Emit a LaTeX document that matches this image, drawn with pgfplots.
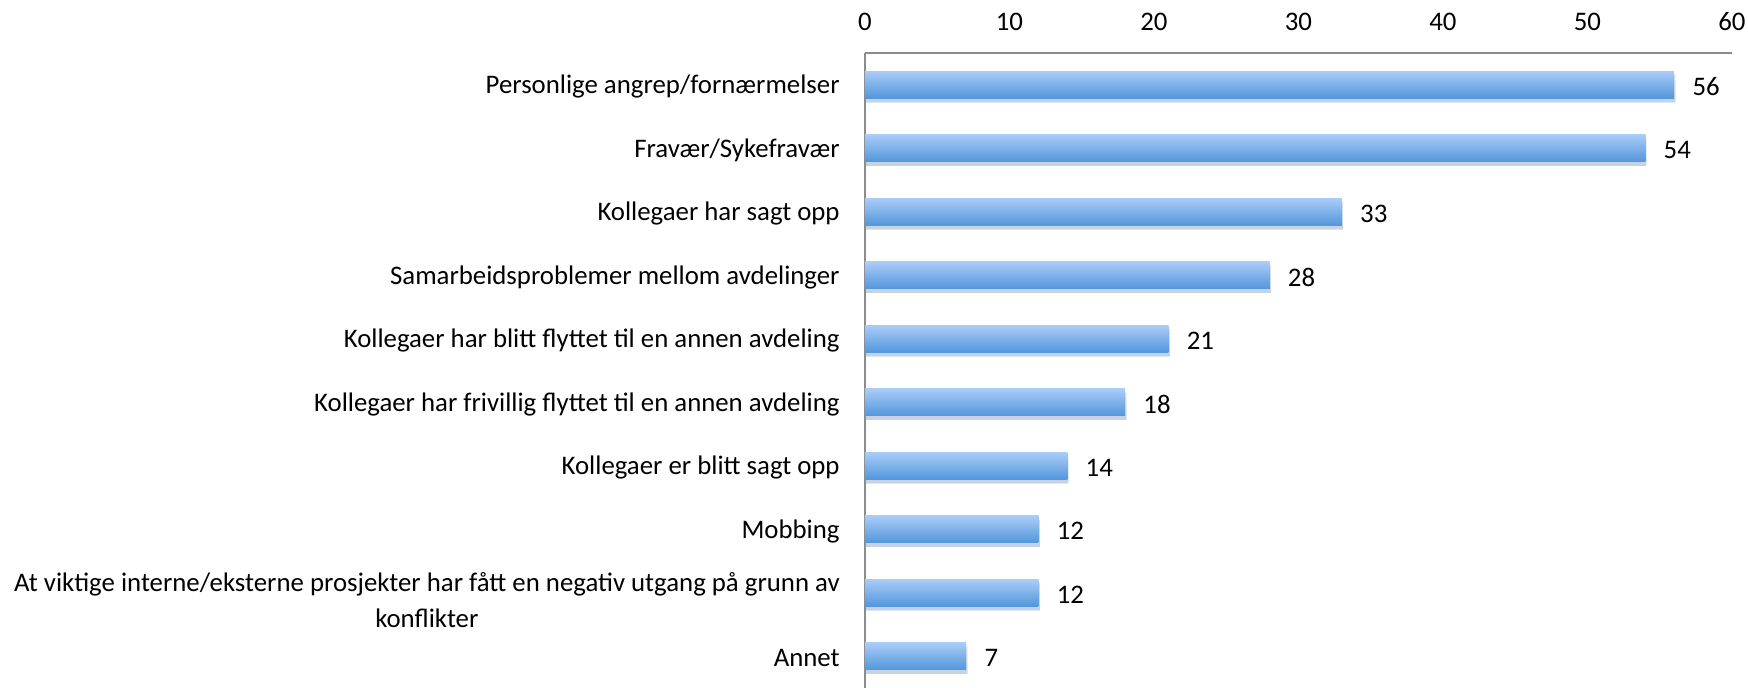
\documentclass[border=0pt]{standalone}
\usepackage{pgfplots}
\pgfplotsset{compat=1.18}
\usetikzlibrary{shadows}
\usepackage{fontspec}
\setmainfont{Carlito}
\definecolor{barTop}{HTML}{A9CCF8}
\definecolor{barBot}{HTML}{5396DB}
\begin{document}
\begin{tikzpicture}
\begin{axis}[
  at={(0,0)}, anchor=north west,
  scale only axis, width=433.5pt, height=317.5pt,
  xbar, bar width=13.5pt,
  xmin=0, xmax=60, xtick={0,10,...,60},
  ymin=-0.5, ymax=9.5, y dir=reverse,
  ytick={0,...,9},
  yticklabels={Personlige angrep/fornærmelser, Fravær/Sykefravær, Kollegaer har sagt opp, Samarbeidsproblemer mellom avdelinger, Kollegaer har blitt flyttet til en annen avdeling, Kollegaer har frivillig flyttet til en annen avdeling, Kollegaer er blitt sagt opp, Mobbing, {\rule{0pt}{15pt}At viktige interne/eksterne prosjekter har fått en negativ utgang på grunn av\\konflikter}, Annet},
  axis x line*=top, axis y line*=left,
  axis line style={draw=black!45, line width=1pt, -},
  major tick length=0pt,
  tick style={draw=none},
  /pgf/number format/assume math mode=true,
  tick label style={font=\fontsize{13.4}{18}\selectfont},
  xticklabel style={anchor=center, yshift=15.5pt},
  yticklabel style={align=center, anchor=east, inner sep=0pt, xshift=-12.5pt, yshift=-1pt},
  nodes near coords,
  nodes near coords style={font=\fontsize{13.4}{16}\selectfont, anchor=west, inner sep=0pt, xshift=9pt, yshift=-1pt, text=black},
  every axis plot/.append style={xbar, bar shift=0pt, draw=none, top color=barTop, bottom color=barBot,
    drop shadow={opacity=0.22, shadow xshift=0.6pt, shadow yshift=-2pt}},
  clip=false,
]
\addplot coordinates {(56,0)};
\addplot coordinates {(54,1)};
\addplot coordinates {(33,2)};
\addplot coordinates {(28,3)};
\addplot coordinates {(21,4)};
\addplot coordinates {(18,5)};
\addplot coordinates {(14,6)};
\addplot coordinates {(12,7)};
\addplot coordinates {(12,8)};
\addplot coordinates {(7,9)};
\end{axis}
\pgfresetboundingbox
\path (-432.5pt,26.5pt) rectangle (441.5pt,-317.5pt);
\end{tikzpicture}
\end{document}
